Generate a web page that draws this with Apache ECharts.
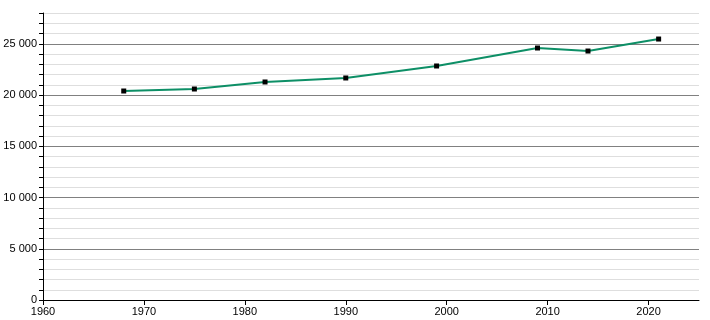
<!DOCTYPE html>
<html>
<head>
<meta charset="utf-8">
<script src="https://cdn.jsdelivr.net/npm/echarts@6/dist/echarts.min.js"></script>
<style>
  html, body { margin: 0; padding: 0; background: #fff; }
  #main { width: 710px; height: 320px; }
</style>
</head>
<body>
<div id="main"></div>
<script>
// population by census year
var years = [1968, 1975, 1982, 1990, 1999, 2009, 2014, 2021];
var population = [20390, 20585, 21270, 21660, 22830, 24585, 24290, 25460];
var xTicks = [1960, 1970, 1980, 1990, 2000, 2010, 2020];

var chart = echarts.init(document.getElementById('main'), null, { renderer: 'canvas' });

var points = [];
for (var i = 0; i < years.length; i++) {
  points.push([years[i], population[i]]);
}

function fmt(v) {
  return String(v).replace(/\B(?=(\d{3})+(?!\d))/g, ' ');
}

var option = {
  animation: false,
  backgroundColor: '#fff',
  textStyle: { fontFamily: 'Liberation Sans', color: '#000' },
  grid: { left: 43, right: 11, top: 13, bottom: 20, containLabel: false },
  xAxis: {
    type: 'value',
    min: 1960,
    max: 2025,
    interval: 10,
    axisLine: { show: true, lineStyle: { color: '#000', width: 1 } },
    axisTick: { show: true, length: 5, lineStyle: { color: '#000' } },
    axisLabel: {
      fontSize: 11, color: '#000', margin: 6,
      showMaxLabel: false,
      formatter: function (v) { return xTicks.indexOf(v) >= 0 ? String(v) : ''; }
    },
    splitLine: { show: false }
  },
  yAxis: {
    type: 'value',
    min: 0,
    max: 28000,
    interval: 1000,
    axisLine: { show: true, onZero: false, lineStyle: { color: '#000', width: 1 } },
    axisTick: { show: true, length: 4, lineStyle: { color: '#000' } },
    axisLabel: {
      fontSize: 11, color: '#000', margin: 6,
      formatter: function (v) { return v % 5000 === 0 ? fmt(v) : ''; }
    },
    splitLine: {
      show: true,
      lineStyle: { color: ['#808080', '#dedede', '#dedede', '#dedede', '#dedede'], width: 1 }
    }
  },
  series: [{
    type: 'line',
    data: points,
    symbol: 'rect',
    symbolSize: 5,
    itemStyle: { color: '#000' },
    lineStyle: { color: '#0d8f66', width: 2 },
    z: 3
  }]
};

chart.setOption(option);
</script>
</body>
</html>
